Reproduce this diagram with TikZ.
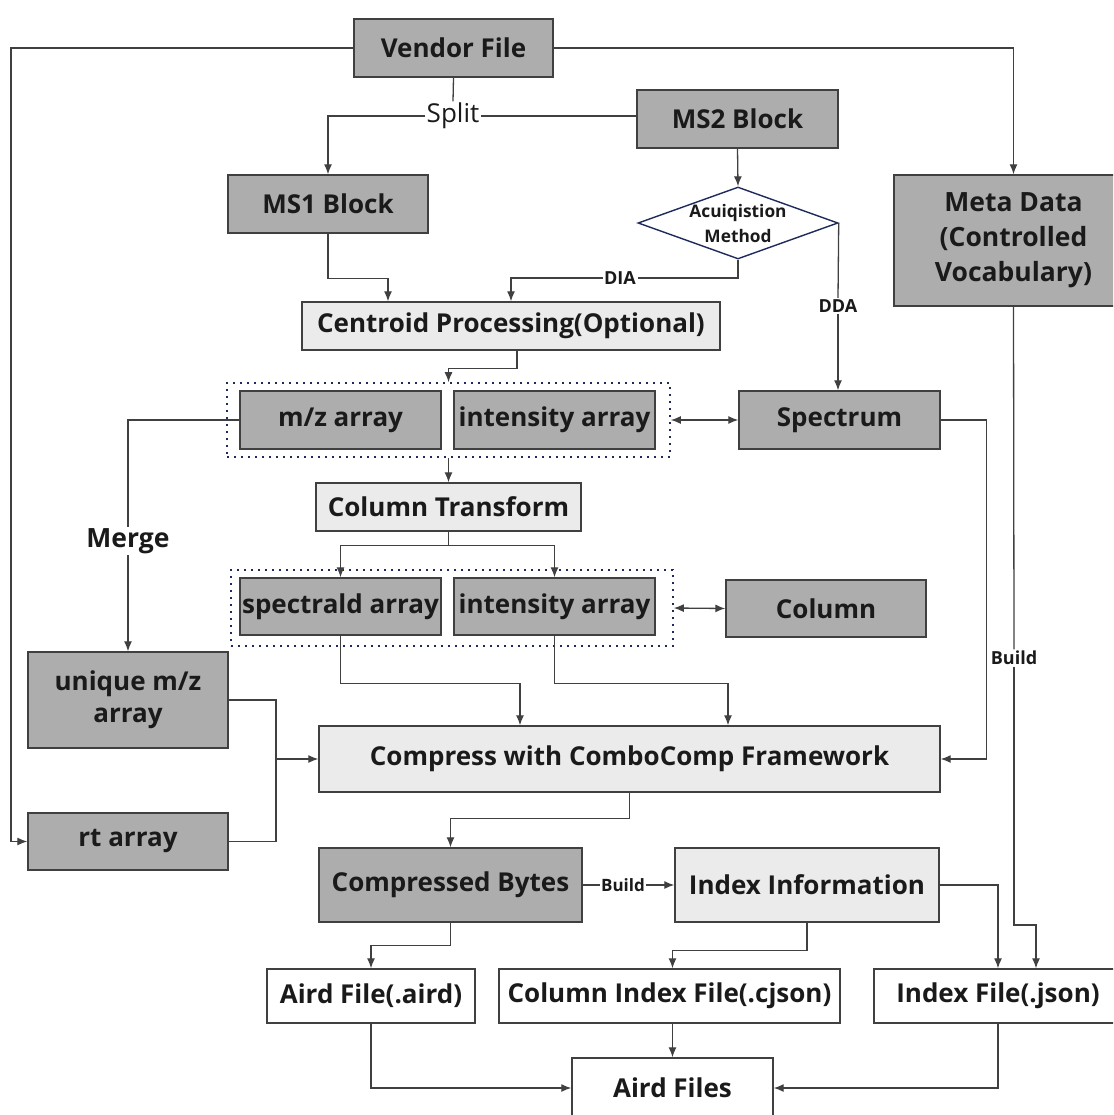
\documentclass[tikz,border=0pt]{standalone}
\usepackage{fontspec}
\setmainfont{Open Sans}
\usetikzlibrary{arrows.meta}
\usetikzlibrary{shapes.geometric}
\definecolor{darkfill}{HTML}{ADADAD}
\definecolor{lightfill}{HTML}{EBEBEB}
\definecolor{edgegray}{HTML}{404040}
\definecolor{navyline}{HTML}{1F2A5C}
\definecolor{inkgray}{HTML}{1A1A1A}

\begin{document}
\begin{tikzpicture}[x=1pt, y=-1pt, >={Latex[length=10pt,width=8pt]},
    color=edgegray, line width=1.3pt,
    darkbox/.style={draw=edgegray, fill=darkfill, line width=1.4pt, inner sep=0pt, text=inkgray,
        font=\bfseries\fontsize{26}{30}\selectfont, align=center},
    lightbox/.style={darkbox, fill=lightfill},
    whitebox/.style={darkbox, fill=white},
    groupbox/.style={draw=navyline, line width=1.6pt, dash pattern=on 2pt off 5pt, inner sep=0pt},
    lbl/.style={fill=white, inner sep=1pt, text=inkgray, font=\bfseries\fontsize{18}{21}\selectfont},
    biglbl/.style={lbl, font=\bfseries\fontsize{26.5}{30}\selectfont}]

    \clip (0,0) rectangle (1113,1115);
    \useasboundingbox (0,0) rectangle (1113,1115);

         % top row
         \node[darkbox, minimum width=199, minimum height=58] (vendor) at (453.5,48) {Vendor File};
         \node[darkbox, minimum width=201, minimum height=58] (ms2) at (737.5,119) {MS2 Block};
         \node[darkbox, minimum width=200, minimum height=58] (ms1) at (328,204) {MS1 Block};
         \node[diamond, draw=navyline, fill=white, line width=1.4pt, inner sep=0pt, minimum width=200, minimum height=72] (acq) at (738,223) {};
         \node[text=inkgray, align=center, inner sep=0pt, font=\bfseries\fontsize{17.3}{25}\selectfont] (acqtxt) at ([yshift=-1pt]acq.center) {Acuiqistion\\Method};
         \node[darkbox, minimum width=239, minimum height=131, font=\bfseries\fontsize{26.5}{35}\selectfont] (meta) at (1013.5,240.5) {Meta Data\\(Controlled\\Vocabulary)};
         \node[lightbox, minimum width=418, minimum height=48] (centroid) at (511,326) {Centroid Processing(Optional)};

         % arrays
         \node[groupbox, minimum width=443, minimum height=74] (grp1) at (448.5,420) {};
         \node[darkbox, minimum width=201, minimum height=58] (mz) at (340.5,420) {m/z array};
         \node[darkbox, minimum width=201, minimum height=58] (int1) at (554.5,420) {intensity array};
         \node[darkbox, minimum width=201, minimum height=58] (spectrum) at (839.5,420) {Spectrum};
         \node[lightbox, minimum width=265, minimum height=48] (coltr) at (448.5,507) {Column Transform};
         \node[groupbox, minimum width=442, minimum height=76] (grp2) at (452,608) {};
         \node[darkbox, minimum width=201, minimum height=57] (specid) at (340.5,606.5) {spectrald array};
         \node[darkbox, minimum width=201, minimum height=57] (int2) at (554.5,606.5) {intensity array};
         \node[darkbox, minimum width=200, minimum height=57] (column) at (826,608.5) {Column};
         \node[darkbox, minimum width=200, minimum height=96, font=\bfseries\fontsize{26}{32}\selectfont] (unique) at (128,700) {unique m/z\\array};
         \node[darkbox, minimum width=200, minimum height=57] (rt) at (128,841.5) {rt array};

         % compression and output
         \node[lightbox, minimum width=621, minimum height=66] (compress) at (629.5,759) {Compress with ComboComp Framework};
         \node[darkbox, minimum width=263, minimum height=74] (cbytes) at (450.5,885) {Compressed Bytes};
         \node[lightbox, minimum width=264, minimum height=74] (idxinfo) at (807,885) {Index Information};
         \node[whitebox, minimum width=208, minimum height=54] (airdfile) at (371,996) {Aird File(.aird)};
         \node[whitebox, minimum width=341, minimum height=54] (colidx) at (669.5,996) {Column Index File(.cjson)};
         \node[whitebox, minimum width=248, minimum height=54] (idxfile) at (998,996) {Index File(.json)};
         \node[whitebox, minimum width=201, minimum height=60] (airdfiles) at (672.5,1088) {Aird Files};

         % edge labels
         \node[lbl, font=\fontsize{26}{30}\selectfont] (split) at (453,116) {Split};
         \node[lbl] (dia) at (620,278) {DIA};
         \node[lbl] (dda) at (838,306) {DDA};
         \node[biglbl] (merge) at (128,541) {Merge};
         \node[lbl] (build) at (1014,658) {Build};
         \node[lbl, inner sep=0.5pt, font=\bfseries\fontsize{17}{19}\selectfont] (buildidx) at (623,885) {Build};
         \coordinate (lft) at (11,48);
         \coordinate (jn) at (276,759);

         % connectors
         \draw (vendor.south) -- (split.north);
         \draw (split.east) -- (split.east -| ms2.west);
         \draw[->] (split.west) -| (ms1.north);
         \draw[->] (ms2.south) -- (acq.north);
         \draw (acq.south) |- (dia.east);
         \draw[->] (dia.west) -| (centroid.north);
         \draw (acq.east) -- (dda.north);
         \draw[->] (dda.south) -- (dda.south |- spectrum.north);
         \draw[->] (vendor.east) -| (meta.north);
         \draw[->] (vendor.west) -- (lft) |- (rt.west);
         \draw[->] (ms1.south) -- ++(0,45) -| ([xshift=-123pt]centroid.north);
         \draw[->] ([xshift=6pt]centroid.south) -- ++(0,18) -| (grp1.north);
         \draw[<->] (grp1.east) -- (spectrum.west);
         \draw[->] (grp1.south) -- (coltr.north);
         \draw[->] (coltr.south) -- ++(0,14) -| (specid.north);
         \draw[->] (coltr.south) -- ++(0,14) -| (int2.north);
         \draw[<->] (grp2.east) -- (column.west);
         \draw (mz.west) -| (merge.north);
         \draw[->] (merge.south) -- (unique.north);
         \draw (unique.east) -| (jn);
         \draw (rt.east) -| (jn);
         \draw[->] (jn) -- (compress.west);
         \draw[->] (specid.south) -- ++(0,48) -| ([xshift=-109.5pt]compress.north);
         \draw[->] (int2.south) -- ++(0,48) -| ([xshift=98.5pt]compress.north);
         \draw[->] (spectrum.east) -- ++(46,0) |- (compress.east);
         \draw[->] (compress.south) -- ++(0,26) -| (cbytes.north);
         \draw (cbytes.east) -- (buildidx.west);
         \draw[->] (buildidx.east) -- (idxinfo.west);
         \draw[->] (idxinfo.east) -| (idxfile.north);
         \draw (meta.south) -- (build.north);
         \draw[->] (build.south) -- (build.south |- 0,925) -| ([xshift=38pt]idxfile.north);
         \draw[->] (cbytes.south) -- ++(0,23) -| (airdfile.north);
         \draw[->] (idxinfo.south) -- ++(0,28) -| ([xshift=3pt]colidx.north);
         \draw[->] (airdfile.south) |- (airdfiles.west);
         \draw[->] ([xshift=3pt]colidx.south) -- ([xshift=3pt]colidx.south |- airdfiles.north);
         \draw[->] (idxfile.south) |- (airdfiles.east);

\end{tikzpicture}
\end{document}
